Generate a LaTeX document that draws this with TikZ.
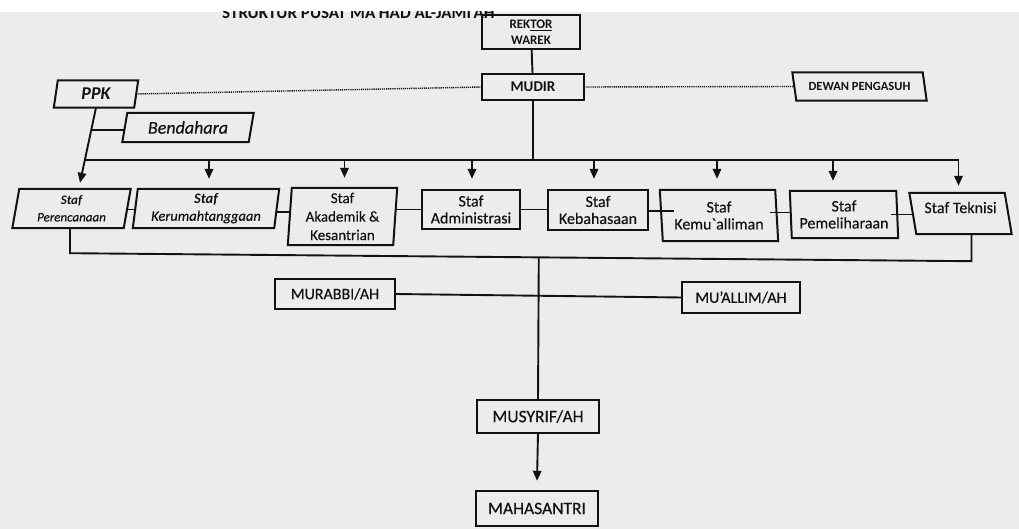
\documentclass[tikz,border=0pt]{standalone}
\usepackage{fontspec}
\setmainfont{Carlito}[UprightFeatures={FakeBold=0.4}, ItalicFeatures={FakeBold=0.4}]
\usetikzlibrary{arrows.meta,calc}
\definecolor{paper}{RGB}{236,236,236}
\definecolor{ink}{RGB}{18,18,18}

\tikzset{
  box/.style={draw=none, inner sep=0pt, align=center, text=ink},
  outline/.style={draw=ink, line width=2pt, line join=miter},
  link/.style={draw=ink, line width=1.9pt},
  arr/.style={link, -{Triangle[length=10pt,width=8.5pt]}},
  dots/.style={draw=ink, line width=1.4pt, dash pattern=on 1.2pt off 0.9pt},
}

% outline of a (possibly slanted) box around a named node
\newcommand\pgbox[2]{%
  \draw[outline] ([xshift={#2}]#1.north west) -- ([xshift={#2}]#1.north east)
    -- ([xshift={-(#2)}]#1.south east) -- ([xshift={-(#2)}]#1.south west) -- cycle;}
\newcommand\fs[1]{\fontsize{#1}{#1}\selectfont}
\newcommand\fsl[2]{\fontsize{#1}{#2}\selectfont}

\begin{document}
\begin{tikzpicture}[x=1pt,y=-1pt]
\useasboundingbox (0,0) rectangle (1019,529);
\fill[white] (0,0) rectangle (1019,529);
\fill[paper] (0,12) rectangle (1019,529);

% heading, cut by the top edge of the sheet
\begin{scope}
  \clip (0,12) rectangle (1019,40);
  \node[anchor=base west, inner sep=0pt, text=ink, font=\bfseries\fs{17}] (title) at (222,18.5)
    {STRUKTUR PUSAT MA'HAD AL-JAMI'AH};
\end{scope}

% top level
\node[box, minimum width=98pt, minimum height=34pt, font=\bfseries\fsl{13}{16}]
  (rektor) at (531,32) {REK\underline{TOR}\\WAREK};
\node[box, minimum width=102pt, minimum height=26pt, font=\bfseries\fs{15}] (mudir) at (533,87) {MUDIR};
\node[box, minimum width=130pt, minimum height=28pt, font=\bfseries\fs{12.5}] (dewan) at (859.5,86.5) {DEWAN PENGASUH};
\node[box, minimum width=80pt, minimum height=27pt, font=\bfseries\itshape\fs{18}] (ppk) at (96,94) {PPK};
\node[box, minimum width=126pt, minimum height=29pt, font=\itshape\fs{18}] (bend) at (188,127.5) {Bendahara};

\pgbox{rektor}{0pt}
\pgbox{mudir}{0pt}
\pgbox{dewan}{-2pt}
\pgbox{ppk}{2pt}
\pgbox{bend}{2.5pt}

% staff row
\node[box, minimum width=111pt, minimum height=39pt, font=\itshape\fsl{13}{17}] (per) at (71.5,208.5) {\textbf{Staf}\\Perencanaan};
\node[box, minimum width=141pt, minimum height=39pt, font=\itshape\fsl{14.5}{17}] (ker) at (206,208.5) {\textbf{Staf}\\Kerumahtanggaan};
\node[box, minimum width=105pt, minimum height=57pt, font=\fsl{15}{18.5}] (aka) at (342.5,216.5) {Staf\\Akademik \&\\Kesantrian};
\node[box, minimum width=98pt, minimum height=39pt, font=\fsl{16}{17}] (adm) at (471,209.5) {Staf\\Administrasi};
\node[box, minimum width=100pt, minimum height=40pt, font=\fsl{16}{17}] (keb) at (598,210) {Staf\\Kebahasaan};
\node[box, minimum width=115pt, minimum height=51pt, font=\fsl{16}{17}] (kem) at (719,215.5) {Staf\\Kemu\textasciigrave alliman};
\node[box, minimum width=106pt, minimum height=47pt, font=\fsl{16}{17}] (pem) at (844,214.5) {Staf\\Pemeliharaan};
\node[box, minimum width=95pt, minimum height=41pt, text depth=12pt, font=\fs{16}] (tek) at (960.5,213.5) {Staf Teknisi};

\pgbox{per}{3.5pt}
\pgbox{ker}{2.5pt}
\pgbox{aka}{2pt}
\pgbox{adm}{0pt}
\pgbox{keb}{0pt}
\pgbox{kem}{-1.5pt}
\pgbox{pem}{-1pt}
\pgbox{tek}{-3.5pt}

% lower levels
\node[box, minimum width=120pt, minimum height=30pt, font=\fs{16}] (mur) at (335,294) {MURABBI/AH};
\node[box, minimum width=118pt, minimum height=31pt, font=\fs{16}] (mua) at (741,297.5) {MU'ALLIM/AH};
\node[box, minimum width=122pt, minimum height=33pt, font=\fs{17.5}] (mus) at (538,416.5) {MUSYRIF/AH};
\node[box, minimum width=122pt, minimum height=35pt, font=\fs{17.5}] (mah) at (537,508.5) {MAHASANTRI};
\pgbox{mur}{0pt}
\pgbox{mua}{0pt}
\pgbox{mus}{0pt}
\pgbox{mah}{0pt}

% line of command from the top
\draw[link] (rektor) -- (mudir);
\draw[dots] (ppk.east) -- (mudir.west);
\draw[dots] (mudir.east) -- (dewan.west);

% PPK line down to planning staff, with treasurer branch
\coordinate (pertip) at ([xshift=8.5pt,yshift=6pt]per.north);
\path (ppk.south) -- (pertip) coordinate[pos=0.3] (bj) coordinate[pos=0.7] (bl);
\draw[arr] (ppk.south) -- (pertip);
\draw[link] (bj) -- (bj -| bend.west);

% distribution bus under MUDIR
\coordinate (br) at ([xshift=-2pt]tek.north |- bl);
\draw[link] (mudir.south) -- (mudir.south |- bl);
\draw[link] (bl) -- (br);
\draw[arr] (br) -- ([xshift=-2pt,yshift=7pt]tek.north);
\draw[arr] (bl -| ker.north) ++(3pt,0) -- ([xshift=3pt,yshift=10pt]ker.north);
\draw[arr] (bl -| aka.north) ++(2pt,0) -- ([xshift=2pt,yshift=10pt]aka.north);
\draw[arr] (bl -| adm.north) ++(1pt,0) -- ([xshift=1pt,yshift=11pt]adm.north);
\draw[arr] (bl -| keb.north) ++(-4pt,0) -- ([xshift=-4pt,yshift=11pt]keb.north);
\draw[arr] (bl -| kem.north) ++(-2pt,0) -- ([xshift=-2pt,yshift=11pt]kem.north);
\draw[arr] (bl -| pem.north) ++(-11pt,0) -- ([xshift=-11pt,yshift=10pt]pem.north);

% links between neighbouring staff
\draw[link] ([yshift=-1pt]per.east) -- ([yshift=-1pt]ker.west);
\draw[link] ([yshift=-3.5pt]ker.east) -- ([yshift=-3.5pt]ker.east -| aka.west);
\draw[link] (adm.west -| aka.east) -- (adm.west);
\draw[link] (adm.east) -- (adm.east -| keb.west);
\draw[link] ([yshift=-1pt]keb.east) -- ([yshift=-1pt,xshift=13pt]keb.east -| kem.west);
\draw[link] ([xshift=-7pt,yshift=3pt]kem.east) -- ([yshift=3pt]kem.east -| pem.west);
\draw[link] ([xshift=-6pt]pem.east) -- (pem.east -| tek.west);

% collecting line under the staff row
\coordinate (ql) at ([xshift=-1.5pt,yshift=-25pt]per.south);
\coordinate (qr) at ([xshift=11pt,yshift=-27pt]tek.south);
\draw[link] ([xshift=-1.5pt]per.south) -- (ql) -- (qr) -- ([xshift=11pt]tek.south);
\path (ql) -- (qr) coordinate[pos=0.52] (qm);
\draw[link] (qm) -- (mus.north);
\draw[link] (mur.east) -- (mua.west);
\draw[arr] (mus.south) -- ([yshift=10pt]mah.north);
\end{tikzpicture}
\end{document}
